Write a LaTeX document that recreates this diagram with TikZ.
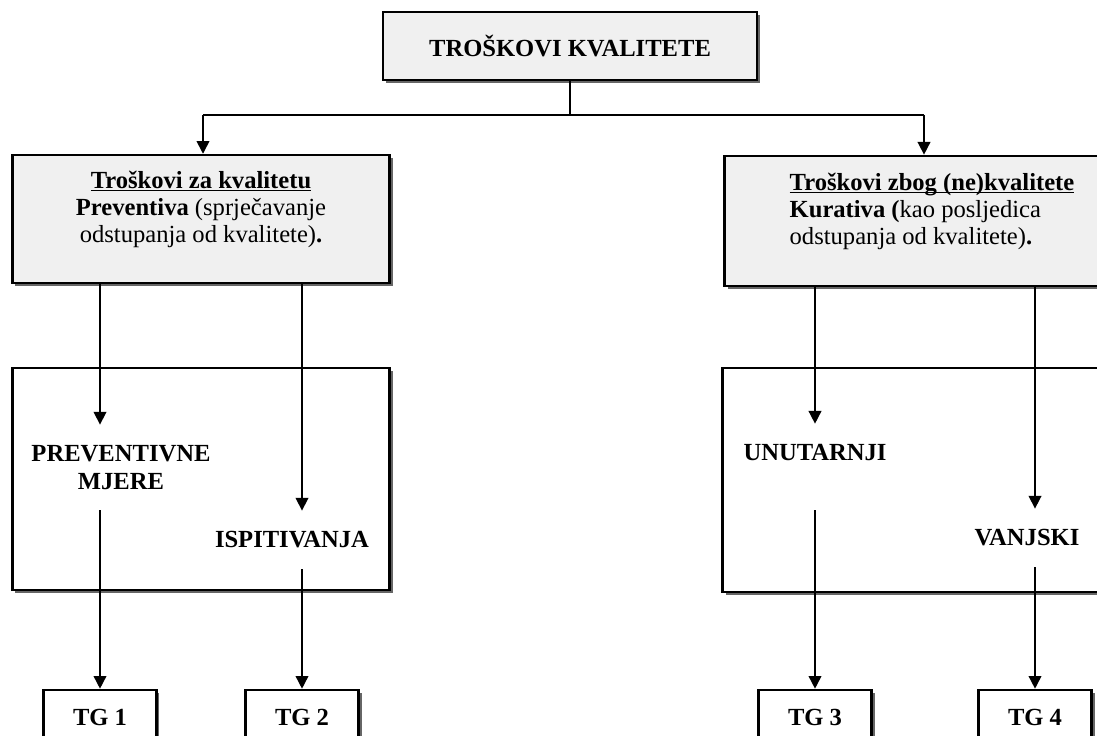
\documentclass[tikz,border=0pt]{standalone}
\usepackage{fontspec}
\setmainfont{Liberation Serif}
\usetikzlibrary{arrows.meta,shadows}
\tikzset{
  box/.style={draw, line width=1.4pt, drop shadow={shadow xshift=1.6pt, shadow yshift=-1.6pt, fill=black!60, opacity=1}},
  greybox/.style={box, fill=gray!12, font=\fontsize{12.6}{14}\selectfont\bfseries},
  whitebox/.style={box, fill=white},
  tgbox/.style={box, fill=white, font=\fontsize{12.6}{14}\selectfont\bfseries, minimum width=2.03cm, minimum height=0.97cm},
  lbl/.style={font=\fontsize{12.6}{14}\selectfont\bfseries, align=center, inner xsep=2pt, inner ysep=10.6pt},
  ln/.style={line width=0.8pt},
  arr/.style={ln, -{Triangle[length=6.5pt,width=6.5pt]}},
}
\newcommand{\headline}[1]{\underline{\vphantom{T}\smash{#1}}}
\begin{document}
\begin{tikzpicture}[x=0.018cm, y=-0.018cm]
%   \draw[help lines] (0,0) grid (1097,736);
    \useasboundingbox (0,0) rectangle (1097,736);
    \clip (0,0) rectangle (1097,736);
    \node[greybox, minimum width=6.73cm, minimum height=1.22cm] (top) at (570,46) {TROŠKOVI KVALITETE};
    \node[greybox, align=center, minimum width=6.80cm, minimum height=2.30cm] (lbox) at (201,219) {\headline{Troškovi za kvalitetu}\\ Preventiva \textmd{(sprječavanje}\\ \textmd{odstupanja od kvalitete)}.\\[-2pt]\mbox{}};
    \node[greybox, align=left, minimum width=7.47cm, minimum height=2.34cm] (rbox) at (932,221) {\headline{Troškovi zbog (ne)kvalitete}\\ Kurativa (\textmd{kao posljedica}\\ \textmd{odstupanja od kvalitete)}.\\[-2pt]\mbox{}};
    \node[whitebox, minimum width=6.80cm, minimum height=4.00cm] (lmid) at (201,479) {};
    \node[whitebox, minimum width=7.50cm, minimum height=4.03cm] (rmid) at (931,480) {};
    \node[lbl] (prev) at (121,467.5) {PREVENTIVNE\\ MJERE};
    \node[lbl] (isp) at (292,540) {ISPITIVANJA};
    \node[lbl] (unut) at (815,453) {UNUTARNJI};
    \node[lbl] (vanj) at (1027,538) {VANJSKI};
    \node[tgbox] (tg1) at (100,717) {TG 1};
    \node[tgbox] (tg2) at (302,717) {TG 2};
    \node[tgbox] (tg3) at (815,717) {TG 3};
    \node[tgbox] (tg4) at (1035,717) {TG 4};
    \coordinate (split) at (570,115);
    \coordinate (lsplit) at (203,115);
    \coordinate (rsplit) at (924,115);
    \draw[ln] (top) -- (split);
    \draw[ln] (lsplit) -- (rsplit);
    \draw[arr] (lsplit) -- (lsplit |- lbox.north);
    \draw[arr] (rsplit) -- (rsplit |- rbox.north);
    \draw[arr] (tg1 |- lbox.south) -- (tg1 |- prev.north);
    \draw[arr] (tg1 |- prev.south) -- (tg1.north);
    \draw[arr] (tg2 |- lbox.south) -- (tg2 |- isp.north);
    \draw[arr] (tg2 |- isp.south) -- (tg2.north);
    \draw[arr] (tg3 |- rbox.south) -- (tg3 |- unut.north);
    \draw[arr] (tg3 |- unut.south) ++(0,28) -- (tg3.north);
    \draw[arr] (tg4 |- rbox.south) -- (tg4 |- vanj.north);
    \draw[arr] (tg4 |- vanj.south) -- (tg4.north);
\end{tikzpicture}
\end{document}
